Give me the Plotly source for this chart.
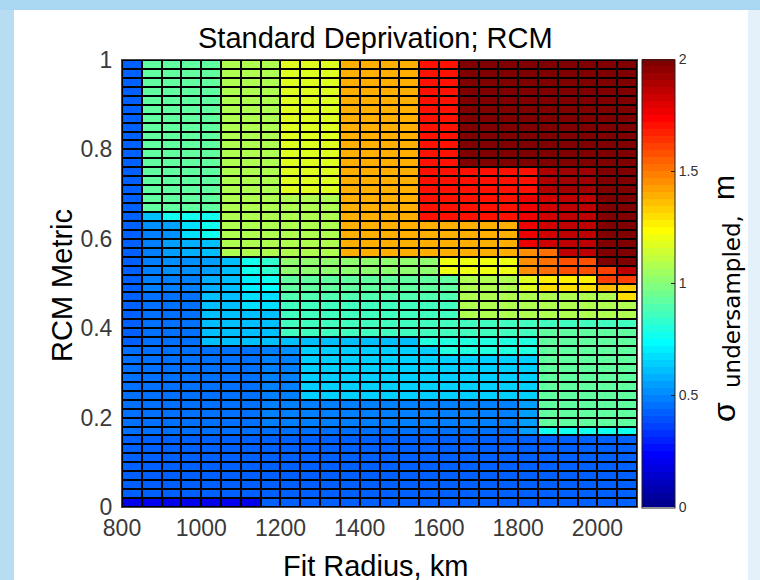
import numpy as np
import plotly.graph_objects as go

# ---------------- data ----------------
# cell edges (km) along x and RCM metric along y
fit_radius_edges = [800, 850, 900, 950, 1000, 1050, 1100, 1150, 1200, 1250, 1300, 1350, 1400,
                    1450, 1500, 1550, 1600, 1650, 1700, 1750, 1800, 1850, 1900, 1950, 2000, 2050, 2100]
rcm_edges = [round(0.02 * i, 2) for i in range(51)]

x_tick_vals = [800, 1000, 1200, 1400, 1600, 1800, 2000]
x_tick_text = ["800", "1000", "1200", "1400", "1600", "1800", "2000"]
y_tick_vals = [0, 0.2, 0.4, 0.6, 0.8, 1.0]
y_tick_text = ["0", "0.2", "0.4", "0.6", "0.8", "1"]
cbar_tick_vals = [0, 0.5, 1, 1.5, 2]
cbar_tick_text = ["0", "0.5", "1", "1.5", "2"]

# sigma_undersampled (m); rows from RCM=0 (bottom) to RCM=1 (top), 26 columns 800..2100 km
sigma_undersampled = [
    [0.19, 0.19, 0.19, 0.19, 0.19, 0.19, 0.19, 0.41, 0.41, 0.41, 0.41, 0.41, 0.41, 0.41, 0.41, 0.41, 0.41, 0.41, 0.41, 0.41, 0.41, 0.41, 0.41, 0.41, 0.41, 0.41],  # r0
    [0.42, 0.42, 0.42, 0.42, 0.42, 0.42, 0.42, 0.42, 0.42, 0.42, 0.42, 0.42, 0.42, 0.42, 0.42, 0.42, 0.42, 0.42, 0.42, 0.42, 0.42, 0.42, 0.42, 0.42, 0.42, 0.42],  # r1
    [0.42, 0.42, 0.42, 0.42, 0.42, 0.42, 0.42, 0.42, 0.42, 0.42, 0.42, 0.42, 0.42, 0.42, 0.42, 0.42, 0.42, 0.42, 0.42, 0.42, 0.42, 0.42, 0.42, 0.42, 0.42, 0.42],  # r2
    [0.42, 0.42, 0.42, 0.42, 0.42, 0.42, 0.42, 0.42, 0.42, 0.42, 0.42, 0.42, 0.42, 0.42, 0.42, 0.42, 0.42, 0.42, 0.42, 0.42, 0.42, 0.42, 0.42, 0.42, 0.42, 0.42],  # r3
    [0.43, 0.43, 0.43, 0.43, 0.43, 0.43, 0.43, 0.43, 0.43, 0.43, 0.43, 0.43, 0.43, 0.43, 0.43, 0.43, 0.43, 0.43, 0.43, 0.43, 0.43, 0.43, 0.43, 0.43, 0.43, 0.43],  # r4
    [0.43, 0.43, 0.43, 0.43, 0.43, 0.43, 0.43, 0.43, 0.43, 0.43, 0.43, 0.43, 0.43, 0.43, 0.43, 0.43, 0.43, 0.43, 0.43, 0.43, 0.43, 0.43, 0.43, 0.43, 0.43, 0.43],  # r5
    [0.43, 0.43, 0.43, 0.43, 0.43, 0.43, 0.43, 0.43, 0.43, 0.43, 0.43, 0.43, 0.43, 0.43, 0.43, 0.43, 0.43, 0.43, 0.43, 0.43, 0.43, 0.43, 0.43, 0.43, 0.43, 0.43],  # r6
    [0.43, 0.43, 0.43, 0.43, 0.43, 0.43, 0.43, 0.43, 0.43, 0.43, 0.43, 0.43, 0.43, 0.43, 0.43, 0.43, 0.43, 0.43, 0.43, 0.43, 0.43, 0.43, 0.43, 0.43, 0.43, 0.43],  # r7
    [0.45, 0.45, 0.45, 0.45, 0.45, 0.45, 0.45, 0.45, 0.45, 0.45, 0.45, 0.45, 0.45, 0.45, 0.45, 0.45, 0.45, 0.45, 0.45, 0.45, 0.55, 0.75, 0.75, 0.75, 0.75, 0.75],  # r8
    [0.45, 0.45, 0.45, 0.45, 0.45, 0.45, 0.45, 0.47, 0.47, 0.47, 0.47, 0.47, 0.47, 0.47, 0.47, 0.47, 0.47, 0.47, 0.47, 0.47, 0.56, 0.93, 0.93, 0.93, 0.93, 0.93],  # r9
    [0.45, 0.45, 0.45, 0.45, 0.45, 0.45, 0.45, 0.47, 0.47, 0.47, 0.47, 0.47, 0.47, 0.47, 0.47, 0.47, 0.47, 0.47, 0.47, 0.47, 0.56, 0.93, 0.93, 0.93, 0.93, 0.93],  # r10
    [0.45, 0.45, 0.45, 0.45, 0.45, 0.45, 0.45, 0.47, 0.47, 0.47, 0.47, 0.47, 0.47, 0.47, 0.47, 0.47, 0.47, 0.47, 0.47, 0.47, 0.56, 0.93, 0.93, 0.93, 0.93, 0.93],  # r11
    [0.44, 0.44, 0.44, 0.44, 0.44, 0.44, 0.44, 0.49, 0.49, 0.64, 0.64, 0.64, 0.64, 0.64, 0.64, 0.64, 0.64, 0.64, 0.64, 0.64, 0.64, 0.93, 0.93, 0.93, 0.93, 0.93],  # r12
    [0.44, 0.44, 0.44, 0.44, 0.44, 0.44, 0.44, 0.49, 0.49, 0.64, 0.64, 0.64, 0.64, 0.64, 0.64, 0.64, 0.64, 0.64, 0.64, 0.64, 0.64, 0.93, 0.93, 0.93, 0.93, 0.93],  # r13
    [0.44, 0.44, 0.44, 0.44, 0.44, 0.44, 0.44, 0.49, 0.49, 0.64, 0.64, 0.64, 0.64, 0.64, 0.64, 0.64, 0.64, 0.64, 0.64, 0.64, 0.64, 0.93, 0.93, 0.93, 0.93, 0.93],  # r14
    [0.44, 0.44, 0.44, 0.44, 0.44, 0.44, 0.44, 0.49, 0.49, 0.64, 0.64, 0.64, 0.64, 0.64, 0.64, 0.64, 0.64, 0.64, 0.64, 0.64, 0.64, 0.93, 0.93, 0.93, 0.93, 0.93],  # r15
    [0.44, 0.44, 0.44, 0.44, 0.44, 0.44, 0.44, 0.49, 0.49, 0.64, 0.64, 0.64, 0.64, 0.64, 0.64, 0.64, 0.64, 0.64, 0.64, 0.64, 0.64, 0.93, 0.93, 0.93, 0.93, 0.93],  # r16
    [0.44, 0.44, 0.44, 0.44, 0.44, 0.44, 0.44, 0.47, 0.50, 0.64, 0.64, 0.64, 0.64, 0.64, 0.64, 0.64, 0.80, 0.80, 0.80, 0.80, 0.80, 0.93, 0.93, 0.93, 0.93, 0.93],  # r17
    [0.43, 0.44, 0.44, 0.44, 0.61, 0.61, 0.61, 0.61, 0.61, 0.61, 0.61, 0.61, 0.61, 0.61, 0.61, 0.81, 0.81, 0.81, 0.81, 0.81, 0.81, 0.93, 0.93, 0.93, 0.93, 0.93],  # r18
    [0.43, 0.44, 0.44, 0.44, 0.61, 0.61, 0.61, 0.61, 0.87, 0.87, 0.87, 0.87, 0.87, 0.87, 0.87, 0.87, 0.87, 0.87, 0.87, 0.87, 0.87, 0.91, 0.91, 0.91, 0.91, 0.91],  # r19
    [0.43, 0.44, 0.44, 0.44, 0.61, 0.61, 0.61, 0.61, 0.87, 0.87, 0.87, 0.87, 0.87, 0.87, 0.87, 0.87, 0.87, 0.87, 0.87, 0.87, 0.87, 0.87, 0.87, 0.87, 0.87, 0.87],  # r20
    [0.43, 0.44, 0.44, 0.44, 0.61, 0.61, 0.61, 0.61, 0.87, 0.87, 0.87, 0.87, 0.87, 0.87, 0.87, 0.87, 0.87, 1.08, 1.08, 1.08, 1.08, 1.08, 1.08, 1.08, 1.08, 1.08],  # r21
    [0.43, 0.44, 0.44, 0.44, 0.61, 0.61, 0.66, 0.66, 0.87, 0.87, 0.87, 0.87, 0.87, 0.87, 0.87, 0.87, 0.87, 1.08, 1.08, 1.08, 1.08, 1.08, 1.08, 1.08, 1.08, 1.08],  # r22
    [0.43, 0.44, 0.44, 0.44, 0.61, 0.61, 0.67, 0.67, 0.88, 0.88, 0.88, 0.88, 0.88, 0.88, 0.88, 0.88, 0.88, 1.08, 1.08, 1.08, 1.08, 1.08, 1.08, 1.08, 1.08, 1.29],  # r23
    [0.43, 0.47, 0.47, 0.47, 0.59, 0.61, 0.69, 0.72, 0.92, 0.92, 0.92, 0.92, 0.92, 0.92, 0.92, 0.92, 0.92, 1.08, 1.08, 1.08, 1.16, 1.31, 1.31, 1.31, 1.37, 1.33],  # r24
    [0.43, 0.47, 0.47, 0.47, 0.59, 0.61, 0.69, 0.75, 0.93, 0.93, 0.93, 0.93, 0.93, 0.93, 0.93, 0.93, 0.93, 1.08, 1.08, 1.08, 1.16, 1.25, 1.25, 1.25, 1.62, 1.62],  # r25
    [0.43, 0.47, 0.50, 0.52, 0.56, 0.61, 0.75, 0.84, 1.03, 1.03, 1.03, 1.03, 1.03, 1.03, 1.03, 1.03, 1.21, 1.21, 1.21, 1.21, 1.44, 1.53, 1.59, 1.59, 1.62, 1.87],  # r26
    [0.43, 0.47, 0.50, 0.53, 0.56, 0.61, 0.75, 0.84, 1.03, 1.03, 1.03, 1.03, 1.03, 1.03, 1.03, 1.03, 1.21, 1.21, 1.21, 1.21, 1.44, 1.53, 1.59, 1.59, 1.98, 1.98],  # r27
    [0.43, 0.47, 0.56, 0.58, 0.61, 1.07, 1.07, 1.07, 1.07, 1.07, 1.07, 1.39, 1.39, 1.39, 1.39, 1.39, 1.39, 1.39, 1.39, 1.39, 1.44, 1.53, 1.87, 1.87, 1.98, 1.98],  # r28
    [0.43, 0.47, 0.56, 0.58, 0.61, 1.07, 1.07, 1.07, 1.07, 1.07, 1.07, 1.39, 1.39, 1.39, 1.39, 1.39, 1.39, 1.39, 1.39, 1.39, 1.75, 1.84, 1.87, 1.87, 1.98, 1.98],  # r29
    [0.43, 0.47, 0.53, 0.66, 0.75, 1.07, 1.07, 1.07, 1.07, 1.07, 1.07, 1.39, 1.39, 1.39, 1.39, 1.39, 1.39, 1.39, 1.39, 1.39, 1.75, 1.83, 1.87, 1.87, 1.98, 1.98],  # r30
    [0.43, 0.53, 0.56, 0.66, 0.75, 1.07, 1.07, 1.07, 1.07, 1.07, 1.07, 1.39, 1.39, 1.39, 1.39, 1.39, 1.39, 1.39, 1.39, 1.39, 1.75, 1.83, 1.87, 1.87, 1.98, 1.98],  # r31
    [0.43, 0.61, 0.75, 0.75, 0.75, 1.07, 1.07, 1.07, 1.07, 1.07, 1.07, 1.39, 1.39, 1.39, 1.39, 1.70, 1.70, 1.70, 1.70, 1.70, 1.75, 1.82, 1.87, 1.87, 1.98, 1.98],  # r32
    [0.43, 0.93, 0.93, 0.93, 0.93, 1.07, 1.07, 1.07, 1.07, 1.07, 1.07, 1.39, 1.39, 1.39, 1.39, 1.70, 1.70, 1.70, 1.70, 1.70, 1.75, 1.82, 1.87, 1.87, 1.98, 1.98],  # r33
    [0.43, 0.93, 0.93, 0.93, 0.93, 1.07, 1.07, 1.07, 1.07, 1.07, 1.07, 1.39, 1.39, 1.39, 1.39, 1.70, 1.70, 1.70, 1.70, 1.70, 1.75, 1.82, 1.87, 1.87, 1.98, 1.98],  # r34
    [0.43, 0.93, 0.93, 0.93, 0.93, 1.07, 1.07, 1.07, 1.16, 1.16, 1.16, 1.39, 1.39, 1.39, 1.39, 1.69, 1.69, 1.71, 1.71, 1.71, 1.71, 1.88, 1.93, 1.93, 1.98, 1.98],  # r35
    [0.43, 0.93, 0.93, 0.93, 0.93, 1.07, 1.07, 1.07, 1.16, 1.16, 1.16, 1.39, 1.39, 1.39, 1.39, 1.69, 1.69, 1.71, 1.71, 1.71, 1.71, 1.88, 1.93, 1.93, 1.98, 1.98],  # r36
    [0.43, 0.93, 0.93, 0.93, 0.93, 1.07, 1.07, 1.07, 1.16, 1.16, 1.16, 1.39, 1.39, 1.39, 1.39, 1.69, 1.69, 1.71, 1.71, 1.71, 1.71, 1.88, 1.93, 1.93, 1.98, 1.98],  # r37
    [0.43, 0.93, 0.93, 0.93, 0.93, 1.07, 1.07, 1.07, 1.16, 1.16, 1.16, 1.39, 1.39, 1.39, 1.39, 1.69, 1.69, 1.98, 1.98, 1.98, 1.98, 1.98, 1.98, 1.98, 1.98, 1.98],  # r38
    [0.43, 0.93, 0.93, 0.93, 0.93, 1.07, 1.07, 1.07, 1.16, 1.16, 1.16, 1.39, 1.39, 1.39, 1.39, 1.69, 1.69, 1.98, 1.98, 1.98, 1.98, 1.98, 1.98, 1.98, 1.98, 1.98],  # r39
    [0.43, 0.93, 0.93, 0.93, 0.93, 1.07, 1.07, 1.07, 1.16, 1.16, 1.16, 1.39, 1.39, 1.39, 1.39, 1.69, 1.69, 1.98, 1.98, 1.98, 1.98, 1.98, 1.98, 1.98, 1.98, 1.98],  # r40
    [0.43, 0.93, 0.93, 0.93, 0.93, 1.07, 1.07, 1.07, 1.16, 1.16, 1.16, 1.39, 1.39, 1.39, 1.39, 1.69, 1.69, 1.98, 1.98, 1.98, 1.98, 1.98, 1.98, 1.98, 1.98, 1.98],  # r41
    [0.43, 0.93, 0.93, 0.93, 0.93, 1.07, 1.07, 1.07, 1.16, 1.16, 1.16, 1.39, 1.39, 1.39, 1.39, 1.69, 1.69, 1.98, 1.98, 1.98, 1.98, 1.98, 1.98, 1.98, 1.98, 1.98],  # r42
    [0.43, 0.93, 0.93, 0.93, 0.93, 1.07, 1.07, 1.07, 1.16, 1.16, 1.16, 1.39, 1.39, 1.39, 1.39, 1.69, 1.69, 1.98, 1.98, 1.98, 1.98, 1.98, 1.98, 1.98, 1.98, 1.98],  # r43
    [0.43, 0.93, 0.93, 0.93, 0.93, 1.07, 1.07, 1.07, 1.16, 1.16, 1.16, 1.39, 1.39, 1.39, 1.39, 1.69, 1.69, 1.98, 1.98, 1.98, 1.98, 1.98, 1.98, 1.98, 1.98, 1.98],  # r44
    [0.43, 0.93, 0.93, 0.93, 0.93, 1.07, 1.07, 1.07, 1.16, 1.16, 1.16, 1.39, 1.39, 1.39, 1.39, 1.69, 1.69, 1.98, 1.98, 1.98, 1.98, 1.98, 1.98, 1.98, 1.98, 1.98],  # r45
    [0.43, 0.93, 0.93, 0.93, 0.93, 1.07, 1.07, 1.07, 1.16, 1.16, 1.16, 1.39, 1.39, 1.39, 1.39, 1.69, 1.69, 1.98, 1.98, 1.98, 1.98, 1.98, 1.98, 1.98, 1.98, 1.98],  # r46
    [0.43, 0.93, 0.93, 0.93, 0.93, 1.07, 1.07, 1.07, 1.16, 1.16, 1.16, 1.39, 1.39, 1.39, 1.39, 1.69, 1.69, 1.98, 1.98, 1.98, 1.98, 1.98, 1.98, 1.98, 1.98, 1.98],  # r47
    [0.43, 0.93, 0.93, 0.93, 0.93, 1.07, 1.07, 1.07, 1.16, 1.16, 1.16, 1.39, 1.39, 1.39, 1.39, 1.69, 1.69, 1.98, 1.98, 1.98, 1.98, 1.98, 1.98, 1.98, 1.98, 1.98],  # r48
    [0.43, 0.93, 0.93, 0.93, 0.93, 1.07, 1.07, 1.07, 1.16, 1.16, 1.16, 1.39, 1.39, 1.39, 1.39, 1.69, 1.69, 1.98, 1.98, 1.98, 1.98, 1.98, 1.98, 1.98, 1.98, 1.98],  # r49
]


# ---------------- MATLAB jet(64) colormap ----------------
def matlab_jet(m=64):
    n = int(np.ceil(m / 4))
    u = np.concatenate([np.arange(1, n + 1) / n, np.ones(n - 1), np.arange(n, 0, -1) / n])
    g = int(np.ceil(n / 2)) - (1 if m % 4 == 1 else 0) + np.arange(1, len(u) + 1)
    r = g + n
    b = g - n
    J = np.zeros((m, 3))
    for arr, ch in ((r, 0), (g, 1), (b, 2)):
        for k, idx in enumerate(arr):
            if 1 <= idx <= m:
                J[idx - 1, ch] = u[k]
    return J


jet = matlab_jet(64)
colorscale = []
for i, c in enumerate(jet):
    col = "rgb(%d,%d,%d)" % tuple(int(round(v * 255)) for v in c)
    colorscale.append([i / 64, col])
    colorscale.append([(i + 1) / 64, col])

# ---------------- layout geometry (pixels) ----------------
W, H = 760, 580
L, R, T, B = 122, 123, 60, 73
PW, PH = W - L - R, H - T - B


def px_x(px):
    return (px - L) / PW


def px_y(py):
    return (H - B - py) / PH


FONT = "Liberation Sans, Arial, Helvetica, sans-serif"

fig = go.Figure(
    go.Heatmap(
        x=fit_radius_edges,
        y=rcm_edges,
        z=sigma_undersampled,
        colorscale=colorscale,
        zmin=0,
        zmax=2,
        xgap=2,
        ygap=2,
        hoverinfo="skip",
        colorbar=dict(
            thickness=33,
            len=448,
            lenmode="pixels",
            x=px_x(642),
            xanchor="left",
            xpad=0,
            y=0.5,
            yanchor="middle",
            ypad=0,
            outlinecolor="#222",
            outlinewidth=1,
            tickvals=cbar_tick_vals,
            ticktext=cbar_tick_text,
            ticks="inside",
            ticklen=4,
            tickcolor="#222",
            tickfont=dict(family=FONT, size=14, color="#333"),
        ),
    )
)

axis_common = dict(
    ticks="inside",
    ticklen=5,
    tickcolor="black",
    showline=True,
    linecolor="#444",
    linewidth=1,
    mirror="ticks",
    showgrid=False,
    zeroline=False,
    tickfont=dict(family=FONT, size=23, color="#3a3a3a"),
)

fig.update_xaxes(range=[800, 2100], tickvals=x_tick_vals, ticktext=x_tick_text, **axis_common)
fig.update_yaxes(range=[0, 1], tickvals=y_tick_vals, ticktext=y_tick_text, ticklabelstandoff=4, **axis_common)

# background strips of the slide behind the white figure
shapes = [
    dict(type="rect", xref="paper", yref="paper", x0=px_x(0), x1=px_x(W), y0=px_y(10), y1=px_y(0),
         fillcolor="#A9D6F1", line_width=0, layer="below"),
    dict(type="rect", xref="paper", yref="paper", x0=px_x(0), x1=px_x(14), y0=px_y(H), y1=px_y(10),
         fillcolor="#B8DDF3", line_width=0, layer="below"),
    dict(type="rect", xref="paper", yref="paper", x0=px_x(748), x1=px_x(W), y0=px_y(H), y1=px_y(10),
         fillcolor="#E4F1FA", line_width=0, layer="below"),
]

annotations = [
    dict(text="Standard Deprivation; RCM", x=px_x(375), y=px_y(38), xref="paper", yref="paper",
         xanchor="center", yanchor="middle", showarrow=False, font=dict(family=FONT, size=29, color="black")),
    dict(text="RCM Metric", x=px_x(62), y=px_y(286), xref="paper", yref="paper", textangle=-90,
         xanchor="center", yanchor="middle", showarrow=False, font=dict(family=FONT, size=29, color="black")),
    dict(text="Fit Radius, km", x=px_x(375), y=px_y(566), xref="paper", yref="paper",
         xanchor="center", yanchor="middle", showarrow=False, font=dict(family=FONT, size=29, color="black")),
    dict(text="σ", x=px_x(724), y=px_y(412), xref="paper", yref="paper", textangle=-90,
         xanchor="center", yanchor="middle", showarrow=False, font=dict(family=FONT, size=32, color="black")),
    dict(text="undersampled,", x=px_x(732), y=px_y(302), xref="paper", yref="paper", textangle=-90,
         xanchor="center", yanchor="middle", showarrow=False, font=dict(family="DejaVu Sans", size=23, color="black")),
    dict(text="m", x=px_x(723), y=px_y(188), xref="paper", yref="paper", textangle=-90,
         xanchor="center", yanchor="middle", showarrow=False, font=dict(family=FONT, size=30, color="black")),
]

fig.update_layout(
    width=W,
    height=H,
    autosize=False,
    margin=dict(l=L, r=R, t=T, b=B, pad=0),
    paper_bgcolor="white",
    plot_bgcolor="black",
    font=dict(family=FONT),
    shapes=shapes,
    annotations=annotations,
    showlegend=False,
)

fig.write_html("out.html")
